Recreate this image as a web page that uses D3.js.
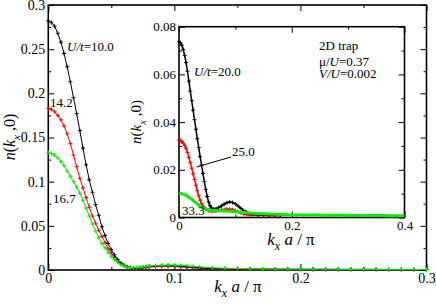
<!DOCTYPE html>
<html>
<head>
<meta charset="utf-8">
<script src="https://cdn.jsdelivr.net/npm/d3@7"></script>
<style>
  body { margin: 0; background: #fff; }
  svg text { font-family: 'Liberation Serif', 'Times New Roman', Times, serif; fill: #000; }
  .frame { fill: none; stroke: #000; stroke-width: 1.6; }
  .axis path { display: none; }
  .axis line { stroke: #000; stroke-width: 1; }
</style>
</head>
<body>
<div id="chart"></div>
<script>
// main panel: k_x a / pi grid and n(k_x,0) for U/t = 10.0, 14.2, 16.7
const kMain = [0, 0.0025, 0.005, 0.0075, 0.01, 0.0125, 0.015, 0.0175, 0.02, 0.0225, 0.025, 0.0275,
  0.03, 0.0325, 0.035, 0.0375, 0.04, 0.0425, 0.045, 0.0475, 0.05, 0.0525, 0.055, 0.0575, 0.06,
  0.0625, 0.065, 0.0675, 0.07, 0.0725, 0.075, 0.0775, 0.08,
  0.085, 0.09, 0.095, 0.1, 0.105, 0.11, 0.115, 0.12,
  0.13, 0.14, 0.15, 0.16, 0.17, 0.18, 0.19, 0.2, 0.21, 0.22, 0.23, 0.24, 0.25, 0.26, 0.27, 0.28, 0.29, 0.3];

const nU10 = [0.282, 0.280, 0.276, 0.268, 0.258, 0.245, 0.230, 0.213, 0.195, 0.177, 0.158, 0.138,
  0.119, 0.102, 0.088, 0.074, 0.062, 0.049, 0.039, 0.030, 0.023, 0.017, 0.012, 0.008, 0.0055,
  0.0037, 0.0027, 0.0022, 0.0022, 0.0025, 0.003, 0.0035, 0.004,
  0.0045, 0.0049, 0.005, 0.0048, 0.0043, 0.0036, 0.0029, 0.0023,
  0.0017, 0.0014, 0.0012, 0.0011, 0.001, 0.001, 0.0009, 0.0009, 0.0008, 0.0008, 0.0008, 0.0007,
  0.0007, 0.0007, 0.0006, 0.0006, 0.0006, 0.0006];
const nU142 = [0.183, 0.182, 0.179, 0.175, 0.170, 0.163, 0.154, 0.143, 0.130, 0.117, 0.104, 0.093,
  0.082, 0.071, 0.061, 0.053, 0.045, 0.038, 0.031, 0.024, 0.019, 0.014, 0.010, 0.007, 0.005,
  0.0035, 0.0026, 0.0021, 0.002, 0.0021, 0.0025, 0.003, 0.0034,
  0.0038, 0.0041, 0.0041, 0.0039, 0.0035, 0.003, 0.0025, 0.002,
  0.0015, 0.0012, 0.001, 0.0009, 0.0009, 0.0008, 0.0008, 0.0007, 0.0007, 0.0007, 0.0006, 0.0006,
  0.0006, 0.0006, 0.0005, 0.0005, 0.0005, 0.0005];
const nU167 = [0.133, 0.132, 0.130, 0.127, 0.123, 0.118, 0.112, 0.106, 0.100, 0.094, 0.087, 0.079,
  0.070, 0.061, 0.052, 0.044, 0.037, 0.030, 0.025, 0.020, 0.015, 0.012, 0.009, 0.006, 0.0045,
  0.0032, 0.0026, 0.0025, 0.0028, 0.0032, 0.0037, 0.0042, 0.0046,
  0.0051, 0.0055, 0.0057, 0.0056, 0.0053, 0.0048, 0.0042, 0.0036,
  0.0026, 0.002, 0.0016, 0.0013, 0.0011, 0.001, 0.0009, 0.0009, 0.0008, 0.0008, 0.0008, 0.0007,
  0.0007, 0.0007, 0.0007, 0.0006, 0.0006, 0.0006];

// inset: U/t = 20.0, 25.0, 33.3
const kInset = [0, 0.0025, 0.005, 0.0075, 0.01, 0.0125, 0.015, 0.0175, 0.02, 0.0225, 0.025, 0.0275,
  0.03, 0.0325, 0.035, 0.0375, 0.04, 0.0425, 0.045, 0.0475, 0.05, 0.0525, 0.055, 0.0575, 0.06,
  0.0625, 0.065, 0.0675, 0.07,
  0.075, 0.08, 0.085, 0.09, 0.095, 0.1, 0.105, 0.11, 0.115, 0.12, 0.125, 0.13,
  0.14, 0.15, 0.16, 0.17, 0.18, 0.19, 0.2,
  0.22, 0.24, 0.26, 0.28, 0.3, 0.32, 0.34, 0.36, 0.38, 0.4];
const nU20 = [0.0737, 0.0733, 0.0722, 0.0705, 0.0680, 0.0650, 0.0613, 0.0572, 0.0530, 0.0490, 0.0450,
  0.0410, 0.0370, 0.0330, 0.0293, 0.0255, 0.0220, 0.0185, 0.0150, 0.0118, 0.0088, 0.0065, 0.0050,
  0.0040, 0.0036, 0.0034, 0.0035, 0.0037, 0.0041,
  0.0048, 0.0056, 0.0062, 0.0065, 0.0063, 0.0057, 0.0048, 0.0038, 0.0029, 0.0022, 0.0017, 0.0014,
  0.0012, 0.0011, 0.001, 0.001, 0.0009];
const nU25 = [0.0325, 0.0323, 0.0318, 0.0311, 0.0303, 0.0290, 0.0273, 0.0252, 0.0230, 0.0207, 0.0183,
  0.0159, 0.0135, 0.0112, 0.0091, 0.0073, 0.0058, 0.0047, 0.0040, 0.0035, 0.0032, 0.0030, 0.0029,
  0.0028, 0.0028, 0.0028, 0.0028, 0.0029, 0.0030,
  0.0032, 0.0034, 0.0035, 0.0035, 0.0033, 0.0029, 0.0024, 0.0019, 0.0015, 0.0012, 0.0010, 0.0009,
  0.0008, 0.0008, 0.0007, 0.0007, 0.0007];
const nU333 = [0.0101, 0.0101, 0.0100, 0.0098, 0.0096, 0.0093, 0.0089, 0.0085, 0.0081, 0.0077, 0.0072,
  0.0067, 0.0062, 0.0057, 0.0052, 0.0047, 0.0043, 0.0040, 0.0037, 0.0035, 0.0033, 0.0032, 0.0031,
  0.0030, 0.0030, 0.0029, 0.0029, 0.0029, 0.0028,
  0.0028, 0.0027, 0.0027, 0.0026, 0.0025, 0.0024, 0.0023, 0.0022, 0.0021, 0.0020, 0.0019, 0.0018,
  0.0017, 0.0016, 0.0015, 0.0014, 0.0013, 0.0012, 0.0011,
  0.0010, 0.0010, 0.0009, 0.0009, 0.0009, 0.0008, 0.0008, 0.0008, 0.0007, 0.0007];

const mainXTicks = [0, 0.1, 0.2, 0.3];
const mainYTicks = [0, 0.05, 0.1, 0.15, 0.2, 0.25, 0.3];
const insetXTicks = [0, 0.2, 0.4];
const insetYTicks = [0, 0.02, 0.04, 0.06, 0.08];
const mainLabels = ['10.0', '14.2', '16.7'];
const insetLabels = ['20.0', '25.0', '33.3'];
const trapInfo = ['2D trap', '0.37', '0.002'];

const serif = "'Liberation Serif', 'Times New Roman', Times, serif";
const width = 436, height = 305;
const svg = d3.select('#chart').append('svg')
  .attr('width', width)
  .attr('height', height)
  .attr('font-family', serif);

svg.append('rect').attr('width', width).attr('height', height).attr('fill', '#fff');

const x = d3.scaleLinear().domain([0, 0.3]).range([48.3, 426.5]);
const y = d3.scaleLinear().domain([0, 0.3]).range([270, 5]);
const xi = d3.scaleLinear().domain([0, 0.4]).range([179, 404.5]);
const yi = d3.scaleLinear().domain([0, 0.08]).range([217.5, 26.7]);

const plus = 'M-2,0H2M0,-2V2';

function axisG(g, tr) {
  return g.append('g').attr('class', 'axis').attr('transform', tr);
}

function drawAxes(g, xs, ys, xt, yt, xMinor, yMinor, fs) {
  const [x0, x1] = xs.range();
  const [y0, y1] = ys.range();
  // bottom, with labels
  axisG(g, 'translate(0,' + y0 + ')')
    .call(d3.axisBottom(xs).tickValues(xt).tickSize(-6).tickPadding(3).tickFormat(d3.format('')))
    .attr('font-family', serif).attr('font-size', fs);
  axisG(g, 'translate(0,' + y0 + ')')
    .call(d3.axisBottom(xs).tickValues(xMinor).tickSize(-3).tickFormat(''));
  axisG(g, 'translate(0,' + y1 + ')')
    .call(d3.axisTop(xs).tickValues(xt).tickSize(-6).tickFormat(''));
  axisG(g, 'translate(0,' + y1 + ')')
    .call(d3.axisTop(xs).tickValues(xMinor).tickSize(-3).tickFormat(''));
  // left, with labels
  axisG(g, 'translate(' + x0 + ',0)')
    .call(d3.axisLeft(ys).tickValues(yt).tickSize(-6).tickPadding(3).tickFormat(d3.format('')))
    .attr('font-family', serif).attr('font-size', fs);
  axisG(g, 'translate(' + x0 + ',0)')
    .call(d3.axisLeft(ys).tickValues(yMinor).tickSize(-3).tickFormat(''));
  axisG(g, 'translate(' + x1 + ',0)')
    .call(d3.axisRight(ys).tickValues(yt).tickSize(-6).tickFormat(''));
  axisG(g, 'translate(' + x1 + ',0)')
    .call(d3.axisRight(ys).tickValues(yMinor).tickSize(-3).tickFormat(''));
  g.append('rect').attr('class', 'frame')
    .attr('x', x0).attr('y', y1).attr('width', x1 - x0).attr('height', y0 - y1);
}

function drawSeries(g, xs, ys, ks, vals, color, lw, marks) {
  const pts = vals.map((v, i) => [ks[i], v]);
  g.append('path')
    .datum(pts)
    .attr('fill', 'none')
    .attr('stroke', color)
    .attr('stroke-width', lw)
    .attr('d', d3.line().x(d => xs(d[0])).y(d => ys(d[1])));
  if (marks) {
    g.selectAll(null).data(pts).enter().append('path')
      .attr('d', plus)
      .attr('transform', d => 'translate(' + xs(d[0]) + ',' + ys(d[1]) + ')')
      .attr('stroke', color)
      .attr('stroke-width', 1);
  }
}

function nLabel(g, cx, cy, fs) {
  const t = g.append('text')
    .attr('transform', 'translate(' + cx + ',' + cy + ') rotate(-90)')
    .attr('text-anchor', 'middle')
    .attr('font-size', fs);
  t.append('tspan').attr('font-style', 'italic').text('n');
  t.append('tspan').text('(');
  t.append('tspan').attr('font-style', 'italic').text('k');
  t.append('tspan').attr('font-style', 'italic').attr('font-size', fs * 0.7).attr('dy', fs * 0.3).text('x');
  t.append('tspan').attr('dy', -fs * 0.3).text(' ,0)');
}

function kLabel(g, cx, by, fs) {
  const t = g.append('text')
    .attr('x', cx).attr('y', by)
    .attr('text-anchor', 'middle')
    .attr('font-size', fs);
  t.append('tspan').attr('font-style', 'italic').text('k');
  t.append('tspan').attr('font-style', 'italic').attr('font-size', fs * 0.7).attr('dy', fs * 0.3).text('x');
  t.append('tspan').attr('dy', -fs * 0.3).attr('font-style', 'italic').text(' a');
  t.append('tspan').text(' / π');
}

function note(g, px, py, parts) {
  const t = g.append('text').attr('x', px).attr('y', py).attr('font-size', 13);
  parts.forEach(p => {
    t.append('tspan').attr('font-style', p[1] ? 'italic' : 'normal').text(p[0]);
  });
  return t;
}

// ---- main panel
const main = svg.append('g');
drawAxes(main, x, y, mainXTicks, mainYTicks, [0.05, 0.15, 0.25],
  [0.025, 0.075, 0.125, 0.175, 0.225, 0.275], 14);
drawSeries(main, x, y, kMain, nU142, '#ff0000', 1, true);
drawSeries(main, x, y, kMain, nU10, '#000000', 1, true);
drawSeries(main, x, y, kMain, nU167, '#00ee00', 1, true);

nLabel(svg, 15, 137, 16);
kLabel(svg, 238, 292, 17);

note(svg, 67, 51, [['U/t', true], ['=' + mainLabels[0], false]]);
note(svg, 50, 106.5, [[mainLabels[1], false]]);
note(svg, 53, 202.5, [[mainLabels[2], false]]);

// ---- inset panel
const inset = svg.append('g');
inset.append('rect')
  .attr('x', 140).attr('y', 18).attr('width', 270).attr('height', 236)
  .attr('fill', '#fff');
drawAxes(inset, xi, yi, insetXTicks, insetYTicks, [0.1, 0.3],
  [0.01, 0.03, 0.05, 0.07], 13);
drawSeries(inset, xi, yi, kInset, nU25, '#ff0000', 1.5, true);
drawSeries(inset, xi, yi, kInset, nU20, '#000000', 1.5, true);
drawSeries(inset, xi, yi, kInset, nU333, '#00ee00', 3, false);

nLabel(inset, 141, 122, 15);
kLabel(inset, 291, 245, 17);

note(inset, 194, 76, [['U/t', true], ['=' + insetLabels[0], false]]);
inset.append('line')
  .attr('x1', 196.5).attr('y1', 167).attr('x2', 231).attr('y2', 157)
  .attr('stroke', '#000').attr('stroke-width', 1);
note(inset, 232, 156, [[insetLabels[1], false]]);
note(inset, 182, 215, [[insetLabels[2], false]]);

note(inset, 319, 50, [[trapInfo[0], false]]);
note(inset, 319, 65.5, [['μ/', false], ['U', true], ['=' + trapInfo[1], false]]);
note(inset, 319, 77.5, [['V/U', true], ['=' + trapInfo[2], false]]);
</script>
</body>
</html>
